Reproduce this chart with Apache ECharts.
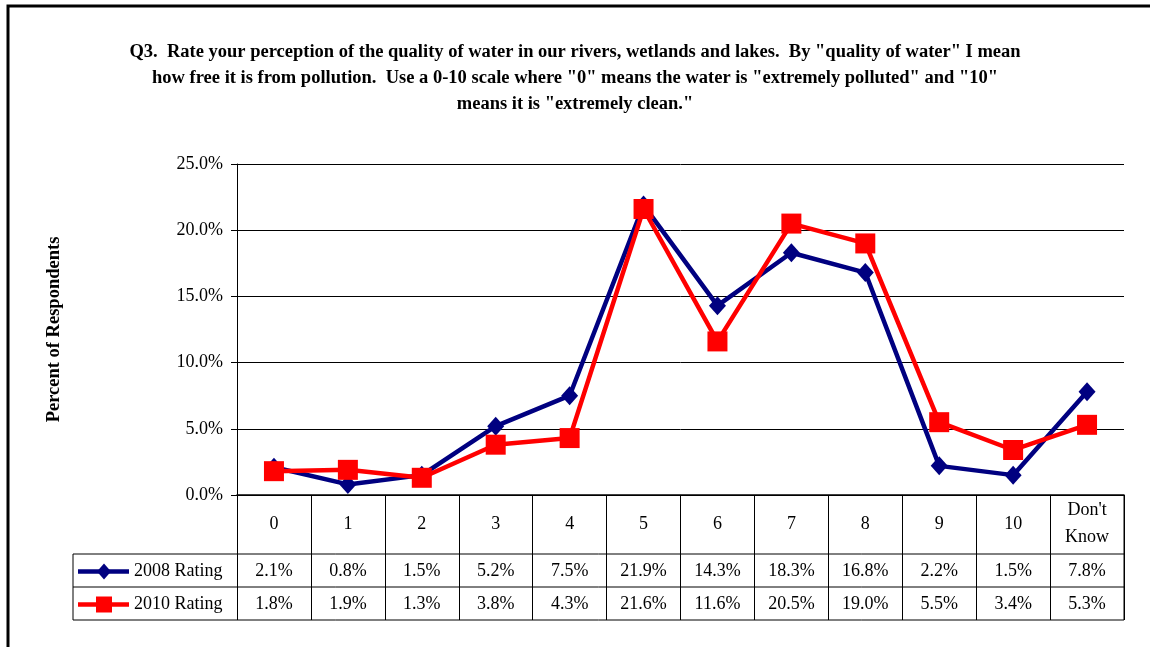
<!DOCTYPE html>
<html>
<head>
<meta charset="utf-8">
<script src="https://cdn.jsdelivr.net/npm/echarts@6/dist/echarts.min.js"></script>
<style>
  html, body { margin: 0; padding: 0; background: #fff; }
  #chart { width: 1150px; height: 647px; }
</style>
</head>
<body>
<div id="chart"></div>
<script>
const categories = ['0', '1', '2', '3', '4', '5', '6', '7', '8', '9', '10', "Don't\nKnow"];
const rating2008 = [2.1, 0.8, 1.5, 5.2, 7.5, 21.9, 14.3, 18.3, 16.8, 2.2, 1.5, 7.8];
const rating2010 = [1.8, 1.9, 1.3, 3.8, 4.3, 21.6, 11.6, 20.5, 19.0, 5.5, 3.4, 5.3];
const seriesNames = ['2008 Rating', '2010 Rating'];
const seriesColors = ['#000080', '#ff0000'];

const font = '"Liberation Serif", "Times New Roman", serif';
const titleText = 'Q3.  Rate your perception of the quality of water in our rivers, wetlands and lakes.  By "quality of water" I mean\n' +
  'how free it is from pollution.  Use a 0-10 scale where "0" means the water is "extremely polluted" and "10"\n' +
  'means it is "extremely clean."';

// plot area and table layout
const gridLeft = 237, gridRight = 1124, gridTop = 164, gridBottom = 495;
const rowLines = [554, 587, 620];
const tableLeft = 73;
const fs = 18;

const chart = echarts.init(document.getElementById('chart'));

chart.setOption({
  animation: false,
  backgroundColor: '#fff',
  textStyle: { fontFamily: font },
  title: {
    text: titleText,
    left: 'center',
    top: 34,
    textStyle: {
      fontFamily: font,
      fontSize: 18.5,
      fontWeight: 'bold',
      color: '#000',
      lineHeight: 26
    }
  },
  grid: {
    left: gridLeft,
    top: gridTop,
    width: gridRight - gridLeft,
    height: gridBottom - gridTop,
    containLabel: false
  },
  xAxis: {
    type: 'category',
    data: categories,
    boundaryGap: true,
    axisLine: { lineStyle: { color: '#000', width: 1.5 } },
    axisTick: {
      show: true,
      interval: 0,
      alignWithLabel: false,
      length: rowLines[2] - gridBottom,
      lineStyle: { color: '#000', width: 1 }
    },
    axisLabel: {
      interval: 0,
      margin: 29,
      verticalAlign: 'middle',
      fontFamily: font,
      fontSize: fs,
      color: '#000',
      lineHeight: 27
    },
    splitLine: { show: false }
  },
  yAxis: {
    type: 'value',
    min: 0,
    max: 25,
    interval: 5,
    name: 'Percent of Respondents',
    nameLocation: 'middle',
    nameGap: 173,
    nameRotate: 90,
    nameTextStyle: {
      fontFamily: font,
      fontSize: 18.5,
      fontWeight: 'bold',
      color: '#000'
    },
    axisLine: { show: true, lineStyle: { color: '#000', width: 1 } },
    axisTick: { show: true, length: 6, lineStyle: { color: '#000' } },
    axisLabel: {
      margin: 14,
      fontFamily: font,
      fontSize: fs,
      color: '#000',
      formatter: v => v.toFixed(1) + '%'
    },
    splitLine: { show: true, lineStyle: { color: '#000', width: 1 } }
  },
  series: [
    {
      name: seriesNames[0],
      type: 'line',
      data: rating2008,
      symbol: 'diamond',
      symbolSize: [17, 19],
      lineStyle: { color: seriesColors[0], width: 4.5 },
      itemStyle: { color: seriesColors[0] },
      z: 2
    },
    {
      name: seriesNames[1],
      type: 'line',
      data: rating2010,
      symbol: 'rect',
      symbolSize: 20,
      lineStyle: { color: seriesColors[1], width: 4.5 },
      itemStyle: { color: seriesColors[1] },
      z: 3
    }
  ]
});

// data table under the plot, placed with the chart's own x scale
const rows = [rating2008, rating2010];
const graphics = [];

// outer frame (top and left edges only are in view)
graphics.push({
  type: 'polyline',
  shape: { points: [[8, 700], [8, 6], [1150, 6]] },
  style: { fill: null, stroke: '#000', lineWidth: 3 },
  silent: true
});

// horizontal rules of the table
rowLines.forEach(y => {
  graphics.push({
    type: 'line',
    shape: { x1: tableLeft, y1: y, x2: gridRight, y2: y },
    style: { stroke: '#000', lineWidth: 1 },
    silent: true
  });
});
graphics.push({
  type: 'line',
  shape: { x1: tableLeft, y1: rowLines[0], x2: tableLeft, y2: rowLines[2] },
  style: { stroke: '#000', lineWidth: 1 },
  silent: true
});
graphics.push({
  type: 'line',
  shape: { x1: gridRight, y1: gridBottom, x2: gridRight, y2: rowLines[2] },
  style: { stroke: '#000', lineWidth: 1 },
  silent: true
});

rows.forEach((vals, r) => {
  const yMid = (rowLines[r] + rowLines[r + 1]) / 2 + 1;
  // legend key
  graphics.push({
    type: 'line',
    shape: { x1: 78, y1: yMid, x2: 129, y2: yMid },
    style: { stroke: seriesColors[r], lineWidth: 4.5 },
    silent: true
  });
  graphics.push(r === 0 ? {
    type: 'polygon',
    shape: { points: [[104, yMid - 8], [111, yMid], [104, yMid + 8], [97, yMid]] },
    style: { fill: seriesColors[r] },
    silent: true
  } : {
    type: 'rect',
    shape: { x: 96, y: yMid - 8, width: 16, height: 16 },
    style: { fill: seriesColors[r] },
    silent: true
  });
  graphics.push({
    type: 'text',
    x: 134,
    y: yMid,
    style: {
      text: seriesNames[r],
      font: fs + 'px ' + font,
      fill: '#000',
      align: 'left',
      verticalAlign: 'middle'
    },
    silent: true
  });
  vals.forEach((v, i) => {
    const px = chart.convertToPixel({ xAxisIndex: 0 }, categories[i]);
    graphics.push({
      type: 'text',
      x: px,
      y: yMid,
      style: {
        text: v.toFixed(1) + '%',
        font: fs + 'px ' + font,
        fill: '#000',
        align: 'center',
        verticalAlign: 'middle'
      },
      silent: true
    });
  });
});

chart.setOption({ graphic: graphics });

window.addEventListener('resize', () => chart.resize());
</script>
</body>
</html>
